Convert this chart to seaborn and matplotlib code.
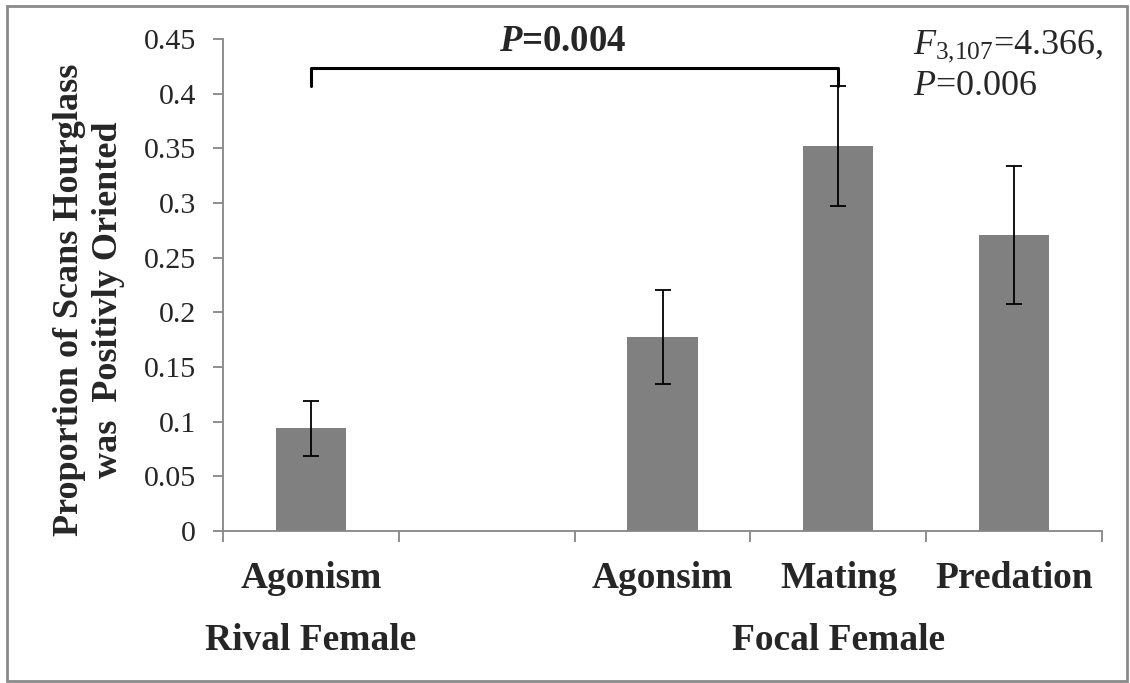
import numpy as np
import pandas as pd
import matplotlib
matplotlib.use("Agg")
import matplotlib.pyplot as plt
import seaborn as sns
from matplotlib.patches import Rectangle

# ---- data ----
slots = ["Agonism", "gap", "Agonsim", "Mating", "Predation"]
categories = ["Agonism", "Agonsim", "Mating", "Predation"]
values = [0.094, 0.177, 0.352, 0.271]
errors = [0.025, 0.043, 0.055, 0.063]
tick_labels = ["Agonism", "", "Agonsim", "Mating", "Predation"]
group_labels = ["Rival Female", "Focal Female"]
group_pos = [0, 3]
yticks = [0, 0.05, 0.1, 0.15, 0.2, 0.25, 0.3, 0.35, 0.4, 0.45]
ytick_labels = ["0", "0.05", "0.1", "0.15", "0.2", "0.25", "0.3", "0.35", "0.4", "0.45"]
bracket = (0, 3)
ylabel = "Proportion of Scans Hourglass\nwas  Positivly Oriented"

sns.set_theme(style="white")
plt.rcParams["font.family"] = ["Liberation Serif", "DejaVu Serif"]
plt.rcParams["mathtext.fontset"] = "custom"
plt.rcParams["mathtext.rm"] = "Liberation Serif"
plt.rcParams["mathtext.it"] = "Liberation Serif:italic"
plt.rcParams["mathtext.bf"] = "Liberation Serif:bold"
plt.rcParams["mathtext.bfit"] = "Liberation Serif:bold:italic"

df = pd.DataFrame({"cat": categories, "val": values})

fig = plt.figure(figsize=(11.3, 6.83), dpi=100)
ax = fig.add_axes([223/1130, 1-531/683, (1102-223)/1130, (531-39)/683])

sns.barplot(data=df, x="cat", y="val", order=slots, color="#808080",
            saturation=1, width=0.4, ax=ax, errorbar=None, linewidth=0)

xpos = [slots.index(c) for c in categories]
ax.errorbar(xpos, values, yerr=errors, fmt="none", ecolor="#000000",
            elinewidth=1.3, capsize=5.8, capthick=1.3)

ax.set_xlim(-0.5, 4.5)
ax.set_ylim(0, 0.45)
ax.set_yticks(yticks)
ax.set_yticklabels(ytick_labels, fontsize=21.5)
ax.set_xlabel("")
ax.set_ylabel("")
gray = "#868686"
for s in ["top", "right"]:
    ax.spines[s].set_visible(False)
for s in ["left", "bottom"]:
    ax.spines[s].set_color(gray)
    ax.spines[s].set_linewidth(1.3)
ax.tick_params(axis="y", which="major", direction="out", length=7.5, width=1.3,
               color=gray, pad=12, left=True)
ax.set_xticks(range(len(slots)))
ax.set_xticklabels([])
ax.tick_params(axis="x", which="major", length=0)
ax.set_xticks(np.arange(-0.5, len(slots), 1.0), minor=True)
ax.tick_params(axis="x", which="minor", direction="out", length=8, width=1.3,
               color=gray, bottom=True)

trans = ax.get_xaxis_transform()
for i, lab in enumerate(tick_labels):
    ax.text(i, -47/492, lab, transform=trans, ha="center", va="center",
            fontsize=27, fontweight="bold", clip_on=False)
for lab, p in zip(group_labels, group_pos):
    ax.text(p, -109/492, lab, transform=trans, ha="center", va="center",
            fontsize=27, fontweight="bold", clip_on=False)

# significance bracket
x0, x1 = bracket
ax.plot([x0, x0, x1, x1], [0.407, 0.4235, 0.4235, 0.407], color="black",
        lw=2.2, clip_on=False, solid_joinstyle="round", solid_capstyle="round")
ax.text((x0 + x1) / 2 - 0.07, 0.4475, r"$\mathbfit{P}$=0.004", ha="center",
        va="center", fontsize=26.5, fontweight="bold", clip_on=False)

fig.text(913/1130, 1-53/683, r"$F_{3{,}107}$=4.366,", ha="left",
         va="baseline", fontsize=26)
fig.text(913/1130, 1-95/683, r"$P$=0.006", ha="left", va="baseline",
         fontsize=26)

fig.text(89/1130, 1-300/683, ylabel, rotation=90, ha="center", va="center",
         fontsize=26, fontweight="bold", multialignment="center",
         linespacing=1.25)

fig.patches.append(Rectangle((7/1130, 2/683), (1127-7)/1130, (677-2)/683,
                             transform=fig.transFigure, fill=False,
                             edgecolor="#8a8a8a", lw=2))

fig.savefig("out.png", dpi=100)
